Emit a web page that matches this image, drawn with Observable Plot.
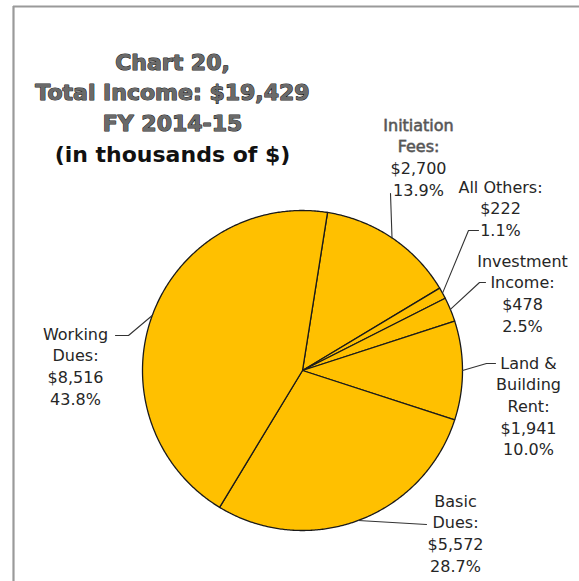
<!DOCTYPE html>
<html><head><meta charset="utf-8">
<script src="https://cdn.jsdelivr.net/npm/d3@7"></script>
<script src="https://cdn.jsdelivr.net/npm/@observablehq/plot@0.6"></script>
<style>body{margin:0;background:#fff;overflow:hidden}</style>
</head><body><div id="chart"></div>
<script>
// ---- data ----
const categories = ["Initiation Fees", "All Others", "Investment Income", "Land & Building Rent", "Basic Dues", "Working Dues"];
const labelNames = [["Initiation", "Fees:"], ["All Others:"], ["Investment", "Income:"], ["Land &", "Building", "Rent:"], ["Basic", "Dues:"], ["Working", "Dues:"]];
const values = [2700, 222, 478, 1941, 5572, 8516];
const titleLines = ["Chart 20,", "Total Income: $19,429", "FY 2014-15"];
const subtitleLine = ["(in thousands of $)"];
const outlinedNames = [0]; // label names drawn in outlined style (like the title)

// ---- layout ----
const W = 579, H = 581, CX = 302, CY = 370, R = 160, START = 9;
const labelLayout = [
  {x: 418, y: 121, leader: [[390, 193]]},
  {x: 500, y: 183, leader: [[478, 230], [468, 230]]},
  {x: 522, y: 257, leader: [[485, 282], [479, 282]]},
  {x: 528, y: 359, leader: [[495, 363], [486, 363]]},
  {x: 455, y: 497, leader: [[426, 524]]},
  {x: 75,  y: 330, leader: [[115, 335], [128, 335]]}
];

const total = d3.sum(values);
const rad = Math.PI / 180;
const arcs = d3.pie().sort(null).value(d => d)
  .startAngle(START * rad).endAngle(START * rad + 2 * Math.PI)(values);

const piePts = [];
arcs.forEach((a, i) => {
  piePts.push({k: i, x: CX, y: CY});
  const n = Math.max(2, Math.ceil((a.endAngle - a.startAngle) / (0.5 * rad)));
  for (let j = 0; j <= n; j++) {
    const t = a.startAngle + (a.endAngle - a.startAngle) * j / n;
    piePts.push({k: i, x: CX + R * Math.sin(t), y: CY - R * Math.cos(t)});
  }
  piePts.push({k: i, x: CX, y: CY});
});

const leaderPts = [];
arcs.forEach((a, i) => {
  const m = (a.startAngle + a.endAngle) / 2;
  labelLayout[i].leader.forEach(p => leaderPts.push({k: i, x: p[0], y: p[1]}));
  leaderPts.push({k: i, x: CX + R * Math.sin(m), y: CY - R * Math.cos(m)});
});

const labels = categories.map((c, i) => {
  const outlined = outlinedNames.includes(i);
  const names = outlined ? labelNames[i].map(() => "") : labelNames[i];
  return {
    x: labelLayout[i].x,
    y: labelLayout[i].y - 6,
    text: [...names, "$" + d3.format(",")(values[i]), d3.format(".1%")(values[i] / total)].join("\n")
  };
});
const outlinedLabels = outlinedNames.map(i => ({
  x: labelLayout[i].x, y: labelLayout[i].y - 6, text: labelNames[i].join("\n")
}));

const font = "DejaVu Sans";
const chart = Plot.plot({
  width: W, height: H,
  margin: 0,
  x: {domain: [0, W], range: [0, W], axis: null},
  y: {domain: [0, H], range: [0, H], axis: null},
  marks: [
    Plot.ruleX([13], {y1: 6, y2: H, stroke: "#9a9a9a", strokeWidth: 2.2}),
    Plot.ruleY([6], {x1: 13, x2: W, stroke: "#9a9a9a", strokeWidth: 2.2}),
    Plot.line(piePts, {x: "x", y: "y", z: "k", fill: "#FFC000", stroke: "#1a1a1a", strokeWidth: 1.3, strokeLinejoin: "round"}),
    Plot.line(leaderPts, {x: "x", y: "y", z: "k", stroke: "#333", strokeWidth: 1.1}),
    Plot.text(labels, {x: "x", y: "y", text: "text", lineAnchor: "top", lineHeight: 1.35,
      fontSize: 16, fontFamily: font, fill: "#262626"}),
    Plot.text(outlinedLabels, {x: "x", y: "y", text: "text", lineAnchor: "top", lineHeight: 1.35,
      fontSize: 16, fontFamily: font, fill: "#555", stroke: "#888", strokeWidth: 0.8}),
    Plot.text(titleLines, {x: () => 172, y: (d, i) => 62 + 30.5 * i, text: d => d, lineAnchor: "middle",
      fontSize: 22, fontWeight: "bold", fontFamily: font, fill: "#6a6a6a", stroke: "#1a1a1a", strokeWidth: 1.1}),
    Plot.text(subtitleLine, {x: () => 172, y: () => 154, text: d => d, lineAnchor: "middle",
      fontSize: 22, fontWeight: "bold", fontFamily: font, fill: "#111"})
  ]
});
document.getElementById("chart").append(chart);
</script>
</body></html>
